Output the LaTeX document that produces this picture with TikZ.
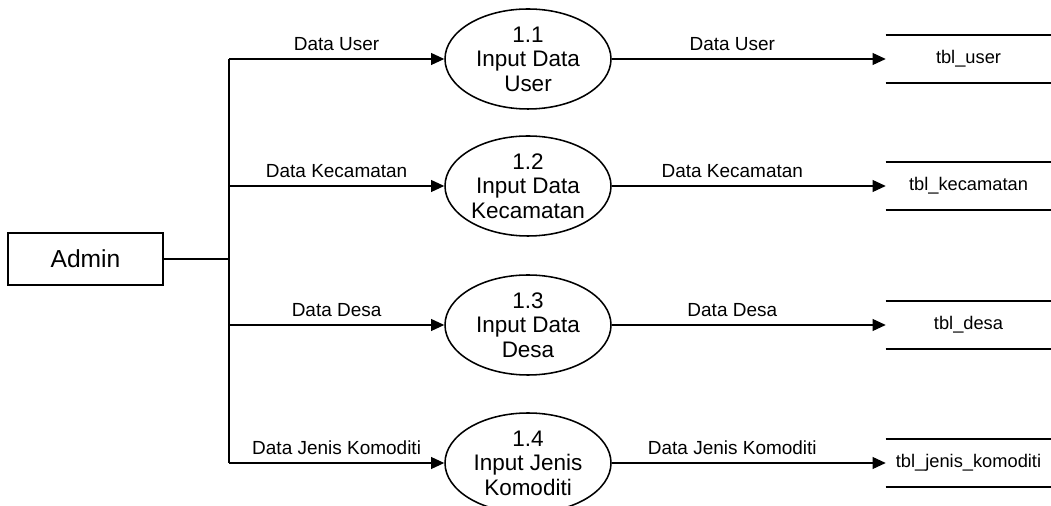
\documentclass[tikz,border=0pt]{standalone}
\usepackage{fontspec}
\setmainfont{Liberation Sans}
\usetikzlibrary{arrows.meta,shapes.geometric}

\begin{document}
\begin{tikzpicture}[
	proses/.style = {draw, ellipse, line width=1.1pt, minimum width=4.15cm, minimum height=2.5cm,
		align=center, inner sep=0pt, font=\fontsize{16}{17.5}\selectfont},
	entitas/.style = {draw, rectangle, line width=0.9pt, minimum width=3.875cm, minimum height=1.3cm,
		font=\fontsize{17.5}{20}\selectfont},
	simpan/.style = {minimum width=4.125cm, minimum height=1.2cm, font=\fontsize{13}{15}\selectfont},
	alir/.style = {line width=0.8pt, -{Triangle[length=0.33cm, width=0.3cm]}},
	ket/.style = {above, yshift=2pt, font=\fontsize{13.5}{16}\selectfont}
]

	\useasboundingbox (0,0) rectangle (26.275,12.65);

	% entitas luar
	\node [entitas] (admin) at (2.1375,6.175) {Admin};

	% proses
	\node [proses] (p1) at (13.2,11.175) {1.1\\Input Data\\User};
	\node [proses] (p2) at (13.2,8.0) {1.2\\Input Data\\Kecamatan};
	\node [proses] (p3) at (13.2,4.525) {1.3\\Input Data\\Desa};
	\node [proses] (p4) at (13.2,1.075) {1.4\\Input Jenis\\Komoditi};

	% data store
	\node [simpan] (t1) at (24.2125,11.175) {tbl\_user};
	\node [simpan] (t2) at (24.2125,8.0) {tbl\_kecamatan};
	\node [simpan] (t3) at (24.2125,4.525) {tbl\_desa};
	\node [simpan] (t4) at (24.2125,1.075) {tbl\_jenis\_komoditi};

	% percabangan dari admin
	\coordinate (b1) at (5.725,11.175);
	\coordinate (b2) at (5.725,8.0);
	\coordinate (b3) at (5.725,4.525);
	\coordinate (b4) at (5.725,1.075);

	\draw [line width=0.8pt] (admin) -- (admin -| b1);
	\draw [line width=0.8pt] (b1) -- (b4);

	\foreach \i/\teks in {1/Data User, 2/Data Kecamatan, 3/Data Desa, 4/Data Jenis Komoditi} {
		\draw [alir] (b\i) -- (p\i) node [ket, pos=0.5] {\teks};
		\draw [alir] (p\i) -- (t\i) node [ket, pos=0.44] {\teks};
		\draw [line width=1.2pt] (t\i.north west) -- (t\i.north east);
		\draw [line width=1.2pt] (t\i.south west) -- (t\i.south east);
	}

\end{tikzpicture}
\end{document}
